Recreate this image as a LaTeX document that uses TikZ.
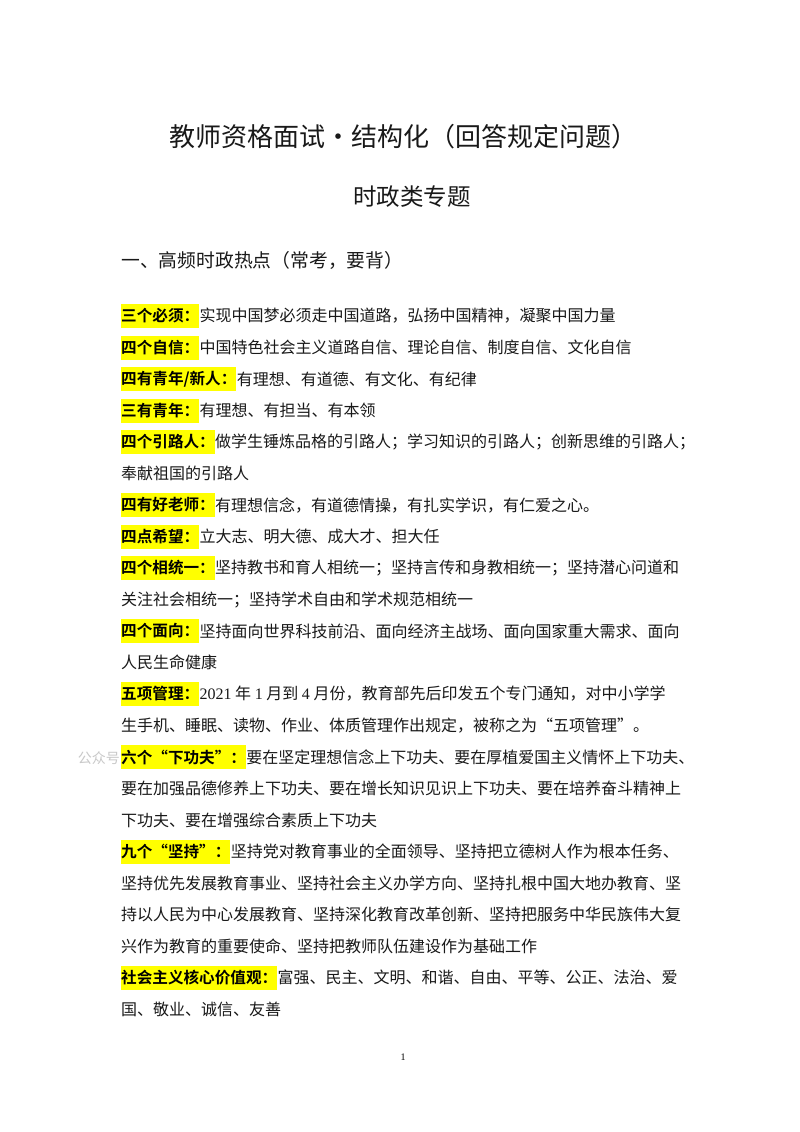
\documentclass[tikz,border=0pt]{standalone}
\usepackage{fontspec}
\setmainfont{Noto Sans CJK SC}
\newfontfamily\cjkb{Noto Sans CJK SC Bold}
\newfontfamily\cjk{Noto Sans CJK SC}
\newfontfamily\latn{Liberation Serif}
\definecolor{hl}{RGB}{255,255,0}
\definecolor{wm}{RGB}{200,200,200}
\definecolor{ink}{RGB}{25,25,25}
\begin{document}
\begin{tikzpicture}[x=1pt,y=-1pt,
  body/.style={anchor=west,inner sep=0pt,text=ink,font=\cjk\fontsize{16pt}{17pt}\selectfont},
  lab/.style={anchor=west,fill=hl,inner xsep=0pt,inner ysep=0pt,minimum height=24pt,text=black,font=\cjkb\fontsize{15.6pt}{17pt}\selectfont},
  ttl/.style={inner sep=0pt,text=ink}]
\useasboundingbox (0,0) rectangle (800,1132);
\fill[white] (0,0) rectangle (800,1132);
\node[ttl,font=\cjk\fontsize{26pt}{28pt}\selectfont] (title) at (403,137) {教师资格面试•结构化（回答规定问题）};
\node[ttl,font=\cjk\fontsize{23.5pt}{25pt}\selectfont] (sub) at (412,197) {时政类专题};
\node[ttl,anchor=west,font=\cjk\fontsize{18.8pt}{20pt}\selectfont] (sec) at (121,260) {一、高频时政热点（常考，要背）};
\node[anchor=east,inner sep=0pt,text=wm,font=\cjk\fontsize{14pt}{15pt}\selectfont] (wmk) at (120,758) {公众号};
% lines
\node[lab] (l1) at (121,316) {三个必须：};
\node[body] (t1) at (l1.east) {实现中国梦必须走中国道路，弘扬中国精神，凝聚中国力量};
\node[lab] (l2) at (121,347.5) {四个自信：};
\node[body] (t2) at (l2.east) {中国特色社会主义道路自信、理论自信、制度自信、文化自信};
\node[lab] (l3) at (121,379) {四有青年/新人：};
\node[body] (t3) at (l3.east) {有理想、有道德、有文化、有纪律};
\node[lab] (l4) at (121,410.5) {三有青年：};
\node[body] (t4) at (l4.east) {有理想、有担当、有本领};
\node[lab] (l5) at (121,442) {四个引路人：};
\node[body] (t5) at (l5.east) {做学生锤炼品格的引路人；学习知识的引路人；创新思维的引路人；};
\node[body] (t6) at (121,473.5) {奉献祖国的引路人};
\node[lab] (l7) at (121,505) {四有好老师：};
\node[body] (t7) at (l7.east) {有理想信念，有道德情操，有扎实学识，有仁爱之心。};
\node[lab] (l8) at (121,536.5) {四点希望：};
\node[body] (t8) at (l8.east) {立大志、明大德、成大才、担大任};
\node[lab] (l9) at (121,568) {四个相统一：};
\node[body] (t9) at (l9.east) {坚持教书和育人相统一；坚持言传和身教相统一；坚持潜心问道和};
\node[body] (t10) at (121,599.5) {关注社会相统一；坚持学术自由和学术规范相统一};
\node[lab] (l11) at (121,631) {四个面向：};
\node[body] (t11) at (l11.east) {坚持面向世界科技前沿、面向经济主战场、面向国家重大需求、面向};
\node[body] (t12) at (121,662.5) {人民生命健康};
\node[lab] (l13) at (121,694) {五项管理：};
\node[body] (t13) at (l13.east) {{\latn 2021} 年 {\latn 1} 月到 {\latn 4} 月份，教育部先后印发五个专门通知，对中小学学};
\node[body] (t14) at (121,725.5) {生手机、睡眠、读物、作业、体质管理作出规定，被称之为“五项管理”。};
\node[lab] (l15) at (121,757) {六个“下功夫”：};
\node[body] (t15) at (l15.east) {要在坚定理想信念上下功夫、要在厚植爱国主义情怀上下功夫、};
\node[body] (t16) at (121,788.5) {要在加强品德修养上下功夫、要在增长知识见识上下功夫、要在培养奋斗精神上};
\node[body] (t17) at (121,820) {下功夫、要在增强综合素质上下功夫};
\node[lab] (l18) at (121,851.5) {九个“坚持”：};
\node[body] (t18) at (l18.east) {坚持党对教育事业的全面领导、坚持把立德树人作为根本任务、};
\node[body] (t19) at (121,883) {坚持优先发展教育事业、坚持社会主义办学方向、坚持扎根中国大地办教育、坚};
\node[body] (t20) at (121,914.5) {持以人民为中心发展教育、坚持深化教育改革创新、坚持把服务中华民族伟大复};
\node[body] (t21) at (121,946) {兴作为教育的重要使命、坚持把教师队伍建设作为基础工作};
\node[lab] (l22) at (121,977.5) {社会主义核心价值观：};
\node[body] (t22) at (l22.east) {富强、民主、文明、和谐、自由、平等、公正、法治、爱};
\node[body] (t23) at (121,1009) {国、敬业、诚信、友善};
\node[inner sep=0pt,font=\latn\fontsize{10pt}{11pt}\selectfont] (pg) at (403,1057) {1};
\end{tikzpicture}
\end{document}
